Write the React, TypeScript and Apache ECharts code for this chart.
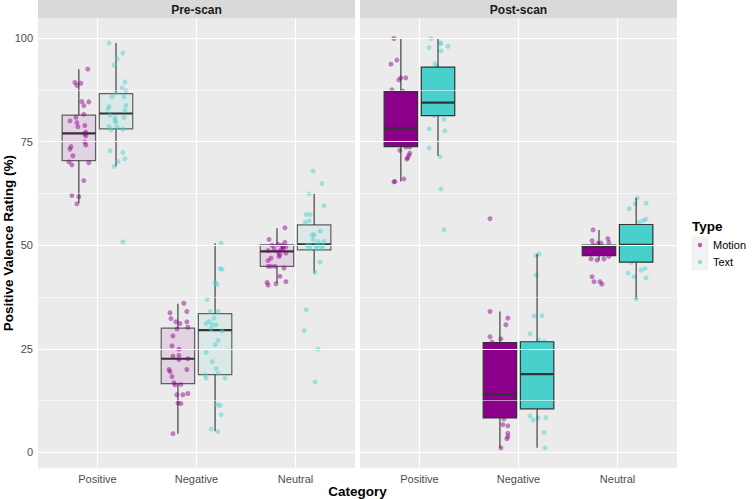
import React, { useEffect, useRef } from "react";
import * as echarts from "echarts";

const categories = ["Positive", "Negative", "Neutral"];
const phases = ["Pre-scan", "Post-scan"];
const types = ["Motion", "Text"];
const yTicks = [0, 25, 50, 75, 100];
const yMinor = [12.5, 37.5, 62.5, 87.5];

// box stats per category: [lower whisker, Q1, median, Q3, upper whisker]
const preMotionBox = [[60.2, 70.4, 77.0, 81.4, 92.5], [4.5, 16.6, 22.6, 30.0, 35.9], [40.9, 44.9, 48.5, 50.1, 54.1]];
const preTextBox = [[69.0, 78.1, 81.8, 86.6, 98.8], [5.1, 18.75, 29.5, 33.5, 50.5], [43.3, 48.9, 50.2, 54.9, 62.4]];
const postMotionBox = [[65.4, 73.8, 78.2, 87.1, 99.8], [1.1, 8.3, 14.0, 26.5, 34.0], [46.4, 47.5, 49.7, 50.0, 53.7]];
const postTextBox = [[71.6, 81.3, 84.4, 93.0, 99.8], [1.1, 10.5, 18.9, 26.7, 47.9], [37.1, 45.9, 50.1, 55.0, 61.4]];

// jittered observations: [horizontal jitter (category units), rating]
const prePosMotion = [[0.09,92.5],[-0.04,89.3],[0.02,89.1],[-0.02,88.6],[0.03,84.7],[0.10,84.6],[0.05,83.7],[0.05,81.6],[-0.03,80.9],[-0.09,80.0],[-0.02,79.6],[-0.01,78.6],[0.06,78.9],[0.07,77.3],[0.06,76.9],[0.07,76.4],[0.06,74.9],[0.07,74.2],[-0.08,73.8],[-0.09,73.2],[-0.06,71.6],[-0.10,70.1],[-0.07,69.4],[0.10,69.9],[0.05,65.6],[-0.07,62.0],[0.00,61.7],[-0.02,60.0]];
const prePosText = [[-0.07,98.8],[0.07,96.4],[0.01,95.0],[-0.02,93.5],[0.09,89.4],[0.06,88.0],[0.10,87.3],[0.00,86.7],[0.08,85.9],[-0.04,85.8],[0.10,83.7],[-0.07,83.5],[-0.08,82.9],[0.09,82.5],[-0.06,81.3],[-0.01,80.8],[0.08,80.9],[-0.01,80.1],[0.00,79.6],[-0.07,78.7],[-0.05,77.9],[0.01,78.5],[0.07,78.0],[-0.06,72.8],[0.07,72.4],[0.09,70.9],[0.02,70.2],[-0.02,69.0],[0.07,50.8]];
const preNegMotion = [[0.06,36.0],[-0.08,33.7],[0.09,34.0],[-0.07,32.3],[-0.02,31.5],[0.02,31.1],[0.09,31.5],[-0.01,29.8],[0.10,30.2],[-0.05,28.1],[-0.06,25.7],[0.01,24.9],[-0.05,23.2],[0.01,23.4],[0.10,22.6],[0.01,22.4],[-0.09,20.0],[-0.08,19.5],[0.09,20.0],[-0.06,18.3],[-0.04,16.8],[-0.03,16.3],[0.03,16.4],[-0.01,13.9],[0.05,13.9],[0.10,14.2],[0.00,11.9],[0.03,11.8],[-0.05,4.5]];
const preNegText = [[0.06,50.5],[0.05,44.3],[0.07,44.2],[0.00,41.0],[0.02,40.5],[-0.08,36.9],[-0.05,34.0],[0.03,34.0],[-0.01,32.4],[-0.09,31.1],[-0.06,31.6],[-0.03,30.8],[0.01,30.8],[-0.04,29.8],[0.07,29.3],[0.03,27.0],[0.00,26.0],[-0.09,24.1],[-0.03,21.9],[0.01,20.2],[0.03,19.0],[-0.10,18.7],[-0.09,17.9],[0.10,17.9],[0.02,11.5],[0.05,11.3],[0.06,9.1],[-0.04,5.6],[0.03,5.0]];
const preNeuMotion = [[0.08,54.2],[-0.08,51.4],[-0.05,50.0],[0.01,50.2],[0.08,50.7],[0.05,50.0],[0.09,49.6],[-0.09,48.7],[-0.03,49.2],[0.06,49.1],[0.01,48.4],[0.09,48.1],[0.02,47.3],[-0.06,46.9],[-0.09,46.3],[-0.09,44.9],[-0.06,44.9],[-0.02,44.9],[0.07,44.5],[0.03,42.5],[-0.10,41.0],[-0.09,40.4],[-0.01,40.7],[0.09,41.2],[0.03,47.7],[0.06,49.6],[0.04,48.9]];
const preNeuText = [[-0.01,67.9],[0.08,64.9],[-0.05,62.4],[0.10,59.5],[-0.08,57.4],[-0.04,57.4],[-0.09,55.5],[-0.05,55.9],[0.06,53.4],[-0.02,52.5],[0.00,52.5],[-0.01,51.4],[0.04,50.9],[0.10,50.9],[-0.07,49.9],[-0.04,49.9],[0.02,49.9],[0.05,49.9],[0.09,49.9],[-0.05,49.1],[0.02,49.1],[0.08,49.1],[0.06,45.9],[0.01,43.4],[-0.08,34.4],[-0.10,29.4],[0.04,24.9],[0.01,17.0]];
const postPosMotion = [[-0.07,99.9],[-0.04,94.7],[-0.10,93.7],[0.00,90.4],[-0.02,89.9],[0.05,90.4],[-0.09,87.5],[0.02,87.2],[0.05,73.7],[0.09,73.7],[-0.01,72.9],[0.09,72.2],[0.08,71.7],[0.07,71.1],[0.06,70.8],[-0.07,65.3],[-0.06,65.4],[0.03,66.0]];
const postPosText = [[-0.07,99.9],[0.02,98.8],[0.03,98.7],[-0.09,97.7],[0.10,98.0],[0.03,96.9],[-0.03,93.8],[-0.01,93.1],[-0.04,81.3],[0.06,80.4],[-0.09,78.1],[0.07,77.6],[-0.09,73.5],[0.02,71.4],[0.03,63.6],[0.06,53.7]];
const postNegMotion = [[-0.10,56.4],[-0.10,34.0],[0.08,32.4],[0.06,30.8],[-0.10,27.9],[0.01,27.4],[-0.08,26.6],[0.04,8.1],[0.03,6.7],[0.08,6.4],[0.08,4.6],[0.08,3.8],[0.07,3.3],[0.01,1.1]];
const postNegText = [[-0.01,47.5],[0.02,47.9],[-0.01,42.8],[-0.03,32.9],[0.05,33.0],[-0.07,28.6],[0.02,27.1],[0.07,26.7],[-0.07,8.8],[-0.04,7.8],[0.01,8.3],[0.09,8.4],[0.07,4.8],[0.08,1.1]];
const postNeuMotion = [[-0.06,53.7],[-0.07,51.1],[0.09,51.6],[0.10,50.7],[-0.01,50.5],[-0.06,50.1],[0.02,50.5],[-0.08,46.7],[-0.02,46.4],[0.05,46.7],[0.10,47.3],[-0.07,42.4],[-0.05,41.2],[0.01,41.2],[0.03,40.6]];
const postNeuText = [[0.01,61.4],[-0.01,60.0],[0.10,60.1],[-0.07,58.8],[0.03,55.5],[0.07,55.9],[0.10,56.3],[-0.05,45.8],[-0.08,43.3],[-0.02,42.4],[0.05,44.0],[0.09,44.4],[0.10,42.1],[0.00,37.1]];

const COLORS: Record<string, number[]> = { Motion: [139, 0, 139], Text: [72, 209, 204] };
const FONT = "'Liberation Sans', Arial, Helvetica, sans-serif";
const DODGE = 0.1875;
const BOX_W = 0.3375;

const rgba = (c: number[], a: number) => `rgba(${c[0]},${c[1]},${c[2]},${a})`;

function boxSeries(gi: number, type: string, stats: number[][], solid: boolean, z: number) {
  const off = type === "Motion" ? -DODGE : DODGE;
  const col = COLORS[type];
  const fill = solid ? rgba(col, 1) : rgba(col, 0.1);
  const edge = solid ? "#333333" : "rgba(51,51,51,0.75)";
  return {
    type: "custom",
    name: type + " box",
    xAxisIndex: gi,
    yAxisIndex: gi,
    z,
    silent: true,
    data: stats.map((s, i) => [i + off, ...s]),
    encode: { x: 0, y: [1, 2, 3, 4, 5] },
    renderItem: (_p: any, api: any) => {
      const x = api.value(0);
      const lw = api.value(1), q1 = api.value(2), med = api.value(3), q3 = api.value(4), uw = api.value(5);
      const tl = api.coord([x - BOX_W / 2, q3]);
      const br = api.coord([x + BOX_W / 2, q1]);
      const ml = api.coord([x - BOX_W / 2, med]);
      const mr = api.coord([x + BOX_W / 2, med]);
      const pu = api.coord([x, uw]);
      const pl = api.coord([x, lw]);
      const p3 = api.coord([x, q3]);
      const p1 = api.coord([x, q1]);
      return {
        type: "group",
        children: [
          { type: "line", shape: { x1: pu[0], y1: pu[1], x2: p3[0], y2: p3[1] }, style: { stroke: "#333333", lineWidth: 1.1 } },
          { type: "line", shape: { x1: p1[0], y1: p1[1], x2: pl[0], y2: pl[1] }, style: { stroke: "#333333", lineWidth: 1.1 } },
          { type: "rect", shape: { x: tl[0], y: tl[1], width: br[0] - tl[0], height: br[1] - tl[1] }, style: { fill, stroke: edge, lineWidth: 1.2 } },
          { type: "line", shape: { x1: ml[0], y1: ml[1], x2: mr[0], y2: mr[1] }, style: { stroke: "#333333", lineWidth: 2.2 } },
        ],
      };
    },
  };
}

function pointSeries(gi: number, type: string, groups: number[][][], z: number) {
  const off = type === "Motion" ? -DODGE : DODGE;
  const data: number[][] = [];
  groups.forEach((pts, ci) => pts.forEach(([j, v]) => data.push([ci + off + j, v])));
  return {
    type: "scatter",
    name: type,
    xAxisIndex: gi,
    yAxisIndex: gi,
    z,
    silent: true,
    symbolSize: 5,
    itemStyle: { color: rgba(COLORS[type], 0.6) },
    data,
  };
}

function gridLines(gi: number) {
  const base = {
    type: "scatter",
    xAxisIndex: gi,
    yAxisIndex: gi,
    data: [],
    silent: true,
    z: 0,
  };
  return [
    {
      ...base,
      name: "major grid " + gi,
      markLine: {
        silent: true,
        symbol: ["none", "none"],
        label: { show: false },
        emphasis: { disabled: true },
        lineStyle: { color: "#FFFFFF", width: 1.1, type: "solid", opacity: 1 },
        data: [...yTicks.map((v) => ({ yAxis: v })), ...categories.map((_c, i) => ({ xAxis: i }))],
      },
    },
    {
      ...base,
      name: "minor grid " + gi,
      markLine: {
        silent: true,
        symbol: ["none", "none"],
        label: { show: false },
        emphasis: { disabled: true },
        lineStyle: { color: "#FFFFFF", width: 0.55, type: "solid", opacity: 1 },
        data: yMinor.map((v) => ({ yAxis: v })),
      },
    },
  ];
}

export default function App() {
  const ref = useRef<HTMLDivElement>(null);
  useEffect(() => {
    if (!ref.current) return;
    const chart = echarts.init(ref.current, null, { renderer: "svg" });
    const panelLeft = [38, 360];
    const panelW = 317;
    const top = 18;
    const bottom = 468.3;
    const grids = panelLeft.map((l) => ({
      left: l,
      top,
      width: panelW,
      height: bottom - top,
      show: true,
      backgroundColor: "#EBEBEB",
      borderWidth: 0,
    }));
    const xAxes = [0, 1].map((gi) => ({
      type: "value",
      gridIndex: gi,
      min: -0.6,
      max: 2.6,
      axisLine: { show: false },
      splitLine: { show: false },
      axisTick: { show: true, customValues: [0, 1, 2], length: 3, lineStyle: { color: "#333333", width: 1 } },
      axisLabel: {
        customValues: [0, 1, 2],
        formatter: (v: number) => categories[Math.round(v)],
        color: "#4D4D4D",
        fontSize: 11,
        fontFamily: FONT,
        margin: 5,
      },
    }));
    const yAxes = [0, 1].map((gi) => ({
      type: "value",
      gridIndex: gi,
      min: -3.85,
      max: 104.85,
      axisLine: { show: false },
      splitLine: { show: false },
      axisTick: { show: gi === 0, customValues: yTicks, length: 3, lineStyle: { color: "#333333", width: 1 } },
      axisLabel: {
        show: gi === 0,
        customValues: yTicks,
        color: "#4D4D4D",
        fontSize: 11,
        fontFamily: FONT,
        margin: 5,
      },
    }));
    const series: any[] = [
      ...gridLines(0),
      ...gridLines(1),
      boxSeries(0, "Motion", preMotionBox, false, 2),
      boxSeries(0, "Text", preTextBox, false, 2),
      pointSeries(0, "Motion", [prePosMotion, preNegMotion, preNeuMotion], 3),
      pointSeries(0, "Text", [prePosText, preNegText, preNeuText], 3),
      pointSeries(1, "Motion", [postPosMotion, postNegMotion, postNeuMotion], 2),
      pointSeries(1, "Text", [postPosText, postNegText, postNeuText], 2),
      boxSeries(1, "Motion", postMotionBox, true, 3),
      boxSeries(1, "Text", postTextBox, true, 3),
    ];
    const graphic: any[] = [];
    phases.forEach((ph, i) => {
      graphic.push({ type: "rect", shape: { x: panelLeft[i], y: 0, width: panelW, height: top }, style: { fill: "#D9D9D9" }, silent: true });
      graphic.push({
        type: "text",
        x: panelLeft[i] + panelW / 2,
        y: top / 2 + 0.5,
        style: { text: ph, fill: "#1A1A1A", font: `bold 12px ${FONT}`, align: "center", verticalAlign: "middle" },
        silent: true,
      });
    });
    graphic.push({
      type: "text",
      x: (panelLeft[0] + panelLeft[1] + panelW) / 2,
      y: 491,
      style: { text: "Category", fill: "#000000", font: `bold 13.5px ${FONT}`, align: "center", verticalAlign: "middle" },
      silent: true,
    });
    graphic.push({
      type: "text",
      x: 8,
      y: (top + bottom) / 2,
      rotation: Math.PI / 2,
      style: { text: "Positive Valence Rating (%)", fill: "#000000", font: `bold 13.5px ${FONT}`, align: "center", verticalAlign: "middle" },
      silent: true,
    });
    // legend
    graphic.push({
      type: "text",
      x: 692,
      y: 226,
      style: { text: "Type", fill: "#000000", font: `bold 13.5px ${FONT}`, align: "left", verticalAlign: "middle" },
      silent: true,
    });
    types.forEach((t, i) => {
      const ky = 236.5 + i * 17;
      graphic.push({ type: "rect", shape: { x: 691.5, y: ky, width: 17, height: 17 }, style: { fill: "#F2F2F2" }, silent: true });
      graphic.push({ type: "circle", shape: { cx: 700, cy: ky + 8.5, r: 2.2 }, style: { fill: rgba(COLORS[t], 0.6) }, silent: true });
      graphic.push({
        type: "text",
        x: 713,
        y: ky + 8.5,
        style: { text: t, fill: "#000000", font: `11px ${FONT}`, align: "left", verticalAlign: "middle" },
        silent: true,
      });
    });
    chart.setOption({
      animation: false,
      backgroundColor: "#FFFFFF",
      grid: grids,
      xAxis: xAxes,
      yAxis: yAxes,
      series,
      graphic,
    });
    return () => chart.dispose();
  }, []);
  return <div ref={ref} style={{ position: "fixed", left: 0, top: 0, width: 753, height: 499 }} />;
}
